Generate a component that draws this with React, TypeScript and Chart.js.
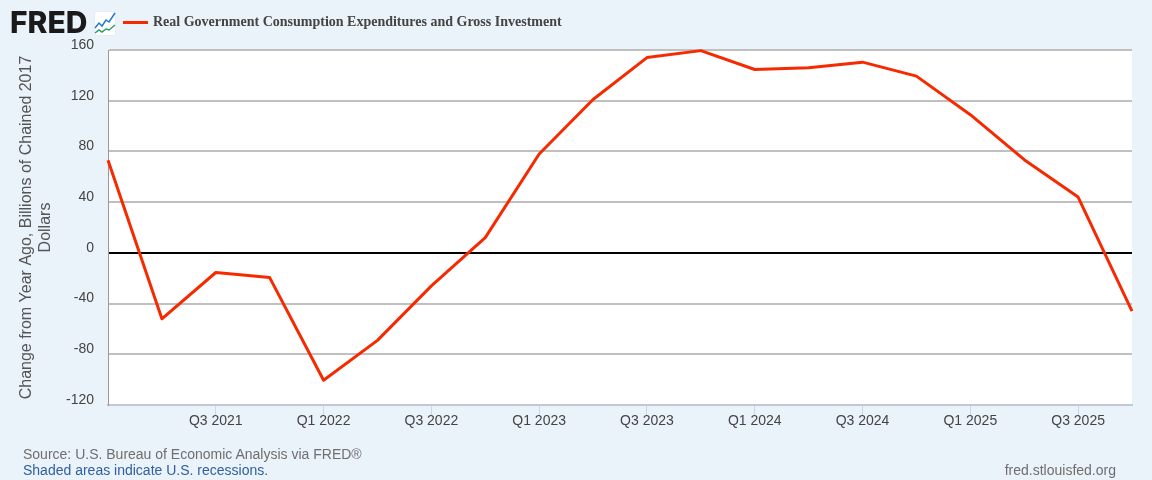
import React, { useEffect, useRef } from "react";
import { Chart, registerables } from "chart.js";

Chart.register(...registerables);

const quarters = [
  "Q1 2021", "Q2 2021", "Q3 2021", "Q4 2021",
  "Q1 2022", "Q2 2022", "Q3 2022", "Q4 2022",
  "Q1 2023", "Q2 2023", "Q3 2023", "Q4 2023",
  "Q1 2024", "Q2 2024", "Q3 2024", "Q4 2024",
  "Q1 2025", "Q2 2025", "Q3 2025", "Q4 2025",
];
const changeFromYearAgo = [
  73, -52, -15.5, -19.5, -100.5, -69, -26, 12, 78, 121, 154, 159.5, 144.6, 146, 150.4, 139.4, 109, 73.5, 44, -46,
];
const shownTicks = [
  "Q3 2021", "Q1 2022", "Q3 2022", "Q1 2023", "Q3 2023", "Q1 2024", "Q3 2024", "Q1 2025", "Q3 2025",
];
const seriesName = "Real Government Consumption Expenditures and Gross Investment";
const yAxisTitle = ["Change from Year Ago, Billions of Chained 2017", "Dollars"];

const FONT = "'Liberation Sans', Arial, sans-serif";

const abs = (s: React.CSSProperties): React.CSSProperties => ({ position: "absolute", whiteSpace: "nowrap", ...s });

export default function App() {
  const ref = useRef<HTMLCanvasElement>(null);
  useEffect(() => {
    const plotBackground = {
      id: "plotBackground",
      beforeDraw(c: any) {
        const { ctx, chartArea: a } = c;
        ctx.save();
        ctx.fillStyle = "#ffffff";
        ctx.fillRect(a.left, a.top, a.right - a.left, a.bottom - a.top);
        ctx.restore();
      },
    };
    const chart = new Chart(ref.current!, {
      type: "line",
      plugins: [plotBackground],
      data: {
        labels: quarters,
        datasets: [
          {
            label: seriesName,
            data: changeFromYearAgo,
            borderColor: "#f62a00",
            borderWidth: 3,
            pointRadius: 0,
            tension: 0,
            clip: false as any,
            borderJoinStyle: "round",
          },
        ],
      },
      options: {
        animation: false,
        responsive: false,
        devicePixelRatio: 1,
        layout: { padding: { left: 17, top: 50, right: 20, bottom: 35 } },
        plugins: { legend: { display: false }, tooltip: { enabled: false }, title: { display: false } },
        scales: {
          x: {
            type: "category",
            offset: false,
            afterBuildTicks(s: any) {
              s.ticks = s.ticks.filter((t: any) => shownTicks.includes(quarters[t.value]));
            },
            afterFit(s: any) {
              s.height = 40;
            },
            grid: { drawOnChartArea: false, drawTicks: true, tickLength: 10, color: "#ccd6eb", lineWidth: 1 },
            border: { color: "#c2c8d6", width: 2 },
            ticks: {
              autoSkip: false,
              maxRotation: 0,
              minRotation: 0,
              padding: -2,
              color: "#444444",
              font: { family: FONT, size: 14 },
            },
          },
          y: {
            type: "linear",
            min: -120,
            max: 160,
            afterFit(s: any) {
              s.width = 91;
            },
            grid: {
              drawTicks: false,
              color: (c: any) => (c.tick.value === 0 ? "#000000" : "#c0c0c0"),
              lineWidth: 2,
            },
            border: { color: "#999999", width: 1 },
            title: {
              display: true,
              text: yAxisTitle,
              color: "#555555",
              font: { family: FONT, size: 16 },
              padding: { top: 0, bottom: 0 },
            },
            ticks: {
              stepSize: 40,
              padding: 14,
              color: "#444444",
              font: { family: FONT, size: 14, lineHeight: 0.72 },
              callback: (v: any) => [String(v), ""],
            },
          },
        },
      },
    } as any);
    return () => chart.destroy();
  }, []);

  return (
    <div style={{ position: "fixed", left: 0, top: 0, width: 1152, height: 480, background: "#eaf2fa", overflow: "hidden", fontFamily: FONT }}>
      <canvas ref={ref} width={1152} height={480} style={{ position: "absolute", left: 0, top: 0, width: 1152, height: 480 }} />
      <div style={abs({ left: 10, top: 2, fontSize: 30, fontWeight: 800, color: "#1a1a1a", letterSpacing: 0, lineHeight: "40px", fontFamily: "Inter, " + FONT })}>FRED</div>
      <svg style={{ position: "absolute", left: 94, top: 11, width: 22, height: 26 }} viewBox="0 0 22 26">
        <rect x="0.5" y="0.5" width="21" height="24" rx="2" fill="#ffffff" stroke="#e6edf5" />
        <polyline points="1,17 5,12 8,15 12,9 15,11 21,2" fill="none" stroke="#1f77d4" strokeWidth="1.5" />
        <polyline points="1,22 5,19 8,21 12,18 15,19 21,14" fill="none" stroke="#2a9d6a" strokeWidth="1.5" />
      </svg>
      <div style={abs({ left: 123, top: 20.5, width: 25, height: 3, background: "#f62a00" })} />
      <div style={abs({ left: 153, top: 13, fontSize: 14, lineHeight: "18px", fontWeight: 700, color: "#444444", fontFamily: "'Liberation Serif', serif" })}>{seriesName}</div>
      <div style={abs({ left: 23, top: 446, fontSize: 14, lineHeight: "16px", color: "#6f6f6f" })}>Source: U.S. Bureau of Economic Analysis via FRED®</div>
      <div style={abs({ left: 23, top: 462, fontSize: 14, lineHeight: "16px", color: "#2f5f9e" })}>Shaded areas indicate U.S. recessions.</div>
      <div style={abs({ right: 36, top: 462, fontSize: 14, lineHeight: "16px", color: "#6f6f6f" })}>fred.stlouisfed.org</div>
    </div>
  );
}
